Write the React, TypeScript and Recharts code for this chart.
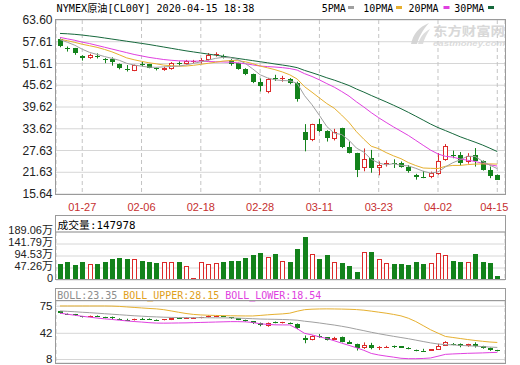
import React from 'react';
import { ComposedChart, Bar, Line, XAxis, YAxis, CartesianGrid } from 'recharts';

// ---------- data ----------
const dates = [
  '01-22','01-23','01-24','01-27','01-28','01-29','01-30','01-31','02-03','02-04',
  '02-05','02-06','02-07','02-10','02-11','02-12','02-13','02-14','02-17','02-18',
  '02-19','02-20','02-21','02-24','02-25','02-26','02-27','02-28','03-02','03-03',
  '03-04','03-05','03-06','03-09','03-10','03-11','03-12','03-13','03-16','03-17',
  '03-18','03-19','03-20','03-23','03-24','03-25','03-26','03-27','03-30','03-31',
  '04-01','04-02','04-03','04-06','04-07','04-08','04-09','04-13','04-14','04-15',
];
const opens = [
  58.3,56.0,55.8,53.7,53.05,53.8,52.9,52.8,51.4,50.05,
  49.65,51.4,51.4,50.25,49.8,50.1,51.8,51.5,52.2,52.2,
  52.6,54.0,53.8,52.5,51.7,50.1,48.7,46.6,43.7,47.6,
  47.5,47.2,46.2,32.7,30.4,34.9,33.0,30.85,33.8,28.7,
  26.9,22.8,25.6,22.8,24.0,24.3,24.3,23.2,20.9,20.3,
  20.3,21.2,25.1,26.3,26.4,24.4,26.4,24.6,22.3,20.75,
];
const highs = [
  58.5,56.3,55.9,53.9,54.3,54.4,53.1,53.3,51.6,51.2,
  51.3,52.1,51.5,50.5,50.7,52.0,52.2,52.6,52.6,53.1,
  54.5,54.7,54.1,52.8,51.8,50.3,48.8,47.5,47.6,48.5,
  48.2,47.6,46.6,34.9,35.0,36.3,33.2,33.6,33.9,30.1,
  27.0,28.2,27.8,24.6,24.9,25.2,24.6,23.6,21.2,22.0,
  21.8,26.9,29.4,27.6,27.2,26.9,28.3,24.9,23.2,21.0,
];
const lows = [
  56.1,54.9,54.0,52.4,52.9,53.0,51.7,51.0,50.0,49.4,
  49.5,50.8,50.3,49.7,49.6,49.9,51.0,51.3,51.7,51.6,
  52.4,53.5,53.0,51.0,49.9,48.4,46.2,43.9,43.4,46.8,
  46.6,45.9,41.1,27.4,30.2,32.7,30.1,30.4,28.3,26.8,
  20.3,21.9,21.5,20.8,23.2,22.8,22.9,21.5,19.6,20.0,
  20.0,20.95,24.8,25.5,23.5,24.0,23.2,22.1,20.0,19.5,
];
const closes = [
  56.3,55.6,54.4,53.0,54.05,53.5,52.7,51.9,50.3,49.9,
  51.1,51.2,50.5,50.1,50.5,51.7,51.6,52.2,52.3,52.5,
  54.05,54.1,53.6,51.6,50.1,48.7,46.6,45.5,47.35,47.4,
  47.7,46.3,41.9,30.4,34.9,33.0,31.0,32.7,28.55,26.9,
  22.3,25.4,22.8,23.6,24.2,24.0,23.2,21.9,20.3,20.2,
  21.4,24.8,28.9,26.0,24.3,26.2,24.6,22.3,20.5,19.6,
];
// volume in 万
const volumes = [
  61.7,69.6,57.8,69.6,61.7,61.7,69.6,81.4,85.3,81.4,
  84.0,73.5,69.6,65.6,69.6,72.2,69.6,56.5,6.6,72.2,
  61.7,65.6,69.6,73.5,73.5,85.3,97.2,105,91.9,101,
  73.5,69.6,120.8,168,101,81.4,97.2,72.2,65.6,53.8,
  30.2,109,109,81.4,65.6,61.7,61.7,57.8,69.6,61.7,
  65.6,105,97.2,73.5,69.6,69.6,101,69.6,65.6,14.8,
];
const ma5 = [
  58.2,57.46,56.64,55.54,54.67,54.11,53.53,53.03,52.49,51.66,
  51.18,50.88,50.6,50.56,50.68,50.8,50.88,51.22,51.66,52.06,
  52.53,53.03,53.31,53.17,52.69,51.62,50.12,48.5,47.65,47.11,
  46.91,46.85,46.13,42.74,40.24,37.3,34.24,32.4,32.03,30.43,
  28.29,27.17,25.19,24.2,23.66,24.0,23.56,23.38,22.72,21.92,
  21.4,21.72,23.12,24.26,25.08,26.04,26.0,24.68,23.58,22.64,
];
const ma10 = [
  58.29,57.89,57.43,56.92,56.5,56.07,55.49,54.83,54.01,53.16,
  52.64,52.2,51.81,51.52,51.17,50.99,50.88,50.91,51.11,51.37,
  51.67,51.96,52.27,52.42,52.38,52.08,51.58,50.91,50.42,49.91,
  49.28,48.5,47.33,45.21,43.69,42.12,40.56,39.28,37.4,35.35,
  32.81,30.72,28.81,28.13,27.06,26.16,25.38,24.3,23.48,22.81,
  22.72,22.66,23.27,23.51,23.52,23.74,23.88,23.92,23.94,23.88,
];
const ma20 = [
  58.8,58.4,58.0,57.5,57.1,56.6,56.1,55.6,55.1,54.6,
  54.1,53.7,53.3,53.0,52.7,52.5,52.35,52.3,52.25,52.27,
  52.16,52.08,52.04,51.97,51.78,51.54,51.23,50.91,50.76,50.64,
  50.47,50.22,49.79,48.81,48.03,47.1,46.07,45.09,43.9,42.62,
  41.04,39.6,38.06,36.66,35.37,34.13,32.96,31.78,30.43,29.07,
  27.75,26.68,26.03,25.81,25.28,24.94,24.62,24.1,23.7,23.33,
];
const ma30 = [
  59.9,59.8,59.65,59.45,59.2,58.95,58.65,58.35,58.05,57.75,
  57.45,57.15,56.85,56.5,56.15,55.8,55.45,55.1,54.8,54.5,
  54.2,53.9,53.6,53.3,53.0,52.7,52.4,52.1,51.8,51.48,
  51.19,50.88,50.47,49.71,49.07,48.39,47.67,47.03,46.3,45.54,
  44.58,43.72,42.79,41.91,41.03,40.11,39.16,38.15,37.09,36.01,
  34.92,33.95,33.12,32.27,31.41,30.66,29.93,29.15,28.26,27.33,
];
const bollUpper = [
  63.6,63.6,63.6,63.6,63.6,63.6,63.6,63.5,63.2,62.7,
  62.2,61.7,61.2,60.8,60.0,58.8,57.5,56.3,55.4,54.9,
  54.6,54.4,54.2,54.1,54.0,53.9,53.9,54.4,55.0,55.5,
  55.9,56.6,58.5,60.0,60.5,60.7,60.8,60.7,60.6,60.4,
  60.1,59.5,58.6,57.6,56.6,55.4,54.0,51.7,48.5,44.5,
  40.5,37.2,34.0,33.0,32.0,31.0,30.1,29.3,28.6,28.15,
];
const bollLower = [
  56.6,55.6,54.6,53.6,52.7,51.9,51.1,50.5,49.8,49.1,
  48.5,48.0,47.4,47.0,46.9,47.0,47.1,47.2,47.4,47.6,
  47.8,48.0,48.2,48.4,48.4,48.2,47.6,46.3,45.7,45.3,
  45.2,45.2,41.5,37.0,35.5,33.6,32.0,29.8,27.5,25.3,
  23.0,20.5,17.5,16.0,14.9,13.9,12.8,12.4,12.4,12.6,
  13.1,14.8,16.6,17.0,17.3,17.6,17.8,18.0,18.3,18.54,
];

const xTickIdx = [3, 11, 19, 27, 35, 43, 51, 59];
const priceTicks = [15.64, 21.63, 27.63, 33.62, 39.62, 45.62, 51.61, 57.61, 63.6];
const volTicks = [0, 47.26, 94.53, 141.79, 189.06];
const volTickLabels = ['0', '47.26万', '94.53万', '141.79万', '189.06万'];
const bollTicks = [11.6, 37.05, 63.4];
const bollTickLabels = ['8', '42', '75'];

const data = dates.map((date, i) => ({
  idx: i,
  date,
  open: opens[i],
  high: highs[i],
  low: lows[i],
  close: closes[i],
  range: [lows[i], highs[i]],
  vol: volumes[i],
  ma5: ma5[i],
  ma10: ma10[i],
  ma20: ma20[i],
  ma30: ma30[i],
  upper: bollUpper[i],
  lower: bollLower[i],
}));

// ---------- styles ----------
const RED = '#dc2a2a';
const GREEN = '#13821b';
const C5 = '#a0a0a0';
const C10 = '#e6b030';
const C20 = '#e040e0';
const C30 = '#16683c';
const FRAME = '#9a9a9a';
const MONO = "'DejaVu Sans Mono', 'Liberation Mono', 'Noto Sans CJK SC', monospace";
const SANS = "'Liberation Sans', Arial, 'Noto Sans CJK SC', sans-serif";
const X_DOMAIN: [number, number] = [-0.54, 60.04];

function monoWidth(s: string) {
  let w = 0;
  for (const ch of s) w += ch.charCodeAt(0) > 255 ? 12 : 6;
  return w;
}

const MonoText = ({ x, y, text, fill = '#000', size = 10.5 }: any) => (
  <text
    x={x}
    y={y}
    fill={fill}
    fontSize={size}
    fontFamily={MONO}
    textLength={monoWidth(text)}
    lengthAdjust="spacingAndGlyphs"
    dominantBaseline="central"
  >
    {text}
  </text>
);

// ---------- shapes ----------
const CandleShape = (props: any) => {
  const { x, y, width, height, payload } = props;
  if (x == null || y == null || !payload) return null;
  const { open, close, high, low } = payload;
  const top = Math.min(y, y + height);
  const bot = Math.max(y, y + height);
  const span = high - low;
  const k = span > 0 ? (bot - top) / span : 0;
  const py = (v: number) => top + (high - v) * k;
  const cx = Math.round(x + width / 2);
  const up = close >= open;
  const color = up ? RED : GREEN;
  const bt = Math.round(py(Math.max(open, close)));
  const bb = Math.max(Math.round(py(Math.min(open, close))), bt + 1);
  const wx = cx + 0.5;
  if (up) {
    const thin = bb - bt <= 2;
    return (
      <g>
        <line x1={wx} x2={wx} y1={top} y2={bt} stroke={color} strokeWidth={1} />
        <line x1={wx} x2={wx} y1={bb} y2={bot} stroke={color} strokeWidth={1} />
        {thin ? (
          <rect x={cx - 2} y={bt} width={5} height={Math.max(bb - bt, 1)} fill={color} />
        ) : (
          <rect x={cx - 1.5} y={bt + 0.5} width={4} height={bb - bt - 1} fill="#fff" stroke={color} strokeWidth={1} />
        )}
      </g>
    );
  }
  return (
    <g>
      <line x1={wx} x2={wx} y1={top} y2={bot} stroke={color} strokeWidth={1} />
      <rect x={cx - 2} y={bt} width={5} height={bb - bt} fill={color} />
    </g>
  );
};

const VolShape = (props: any) => {
  const { x, y, width, height, payload } = props;
  if (x == null || y == null || !payload) return null;
  const cx = Math.round(x + width / 2);
  const top = Math.round(Math.min(y, y + height));
  const bot = Math.round(Math.max(y, y + height));
  if (payload.close >= payload.open) {
    return (
      <rect x={cx - 1.5} y={top + 0.5} width={4} height={Math.max(bot - top - 1, 0)} fill="#fff" stroke={RED} strokeWidth={1} />
    );
  }
  return <rect x={cx - 2} y={top} width={5} height={Math.max(bot - top, 1)} fill={GREEN} />;
};

// ---------- ticks ----------
const PriceTick = (props: any) => {
  const { y, payload } = props;
  return (
    <text x={52.5} y={y} textAnchor="end" dominantBaseline="central" fontSize={12} fontFamily={SANS} fill="#222">
      {Number(payload.value).toFixed(2)}
    </text>
  );
};

const VolTick = (props: any) => {
  const { y, payload } = props;
  const label = volTickLabels[volTicks.indexOf(payload.value)];
  return (
    <text x={53} y={y - 2.5} textAnchor="end" dominantBaseline="central" fontSize={11} fontFamily={SANS} fill="#222">
      {label}
    </text>
  );
};

const BollTick = (props: any) => {
  const { y, payload } = props;
  const label = bollTickLabels[bollTicks.indexOf(payload.value)];
  return (
    <text x={52.5} y={y - 0.5} textAnchor="end" dominantBaseline="central" fontSize={11.5} fontFamily={SANS} fill="#222">
      {label}
    </text>
  );
};

const XTick = (props: any) => {
  const { x, y, payload } = props;
  const i = payload.value;
  const shift = i === dates.length - 1 ? -3 : 0;
  return (
    <text x={x + shift} y={y + 11} textAnchor="middle" dominantBaseline="central" fontSize={11} fontFamily={SANS} fill="#c62f2f">
      {dates[i]}
    </text>
  );
};

const lineProps = { type: 'linear' as const, dot: false, activeDot: false, strokeWidth: 1, isAnimationActive: false };

export default function App() {
  return (
    <div style={{ position: 'absolute', left: 0, top: 0, width: 520, height: 365, background: '#fff', overflow: 'hidden' }}>
      {/* main price panel */}
      <div style={{ position: 'absolute', left: 0, top: 0 }}>
        <ComposedChart width={520} height={215} data={data} margin={{ top: 20, right: 15, bottom: 0, left: 0 }}>
          <CartesianGrid vertical={false} stroke="#d6d6d6" />
          <CartesianGrid horizontal={false} stroke="#c4c4c4" strokeDasharray="4 3" />
          <XAxis
            dataKey="idx"
            type="number"
            domain={X_DOMAIN}
            allowDataOverflow
            ticks={xTickIdx}
            interval={0}
            height={21}
            tickSize={0}
            axisLine={false}
            tickLine={false}
            tick={<XTick />}
          />
          <YAxis
            type="number"
            width={56}
            domain={[15.64, 63.6]}
            allowDataOverflow
            ticks={priceTicks}
            interval={0}
            tickSize={0}
            axisLine={false}
            tickLine={false}
            tick={<PriceTick />}
          />
          <Bar dataKey="range" shape={CandleShape} isAnimationActive={false} />
          <Line dataKey="ma30" stroke={C30} {...lineProps} />
          <Line dataKey="ma20" stroke={C20} {...lineProps} />
          <Line dataKey="ma10" stroke={C10} {...lineProps} />
          <Line dataKey="ma5" stroke={C5} {...lineProps} />
        </ComposedChart>
      </div>

      {/* volume panel */}
      <div style={{ position: 'absolute', left: 0, top: 216 }}>
        <ComposedChart width={520} height={70} data={data} margin={{ top: 16, right: 15, bottom: 6, left: 0 }}>
          <CartesianGrid vertical={false} stroke="#d6d6d6" />
          <CartesianGrid horizontal={false} stroke="#c4c4c4" strokeDasharray="4 3" />
          <XAxis
            dataKey="idx"
            type="number"
            domain={X_DOMAIN}
            allowDataOverflow
            ticks={xTickIdx}
            interval={0}
            height={0}
            tick={false}
            axisLine={false}
            tickLine={false}
          />
          <YAxis
            type="number"
            width={56}
            domain={[0, 189.06]}
            allowDataOverflow
            ticks={volTicks}
            interval={0}
            tickSize={0}
            axisLine={false}
            tickLine={false}
            tick={<VolTick />}
          />
          <Bar dataKey="vol" shape={VolShape} isAnimationActive={false} />
        </ComposedChart>
      </div>

      {/* BOLL panel */}
      <div style={{ position: 'absolute', left: 0, top: 288 }}>
        <ComposedChart width={520} height={77} data={data} margin={{ top: 13, right: 15, bottom: 2, left: 0 }}>
          <CartesianGrid vertical={false} stroke="#d6d6d6" />
          <CartesianGrid horizontal={false} stroke="#c4c4c4" strokeDasharray="4 3" />
          <XAxis
            dataKey="idx"
            type="number"
            domain={X_DOMAIN}
            allowDataOverflow
            ticks={xTickIdx}
            interval={0}
            height={0}
            tick={false}
            axisLine={false}
            tickLine={false}
          />
          <YAxis
            type="number"
            width={56}
            domain={[8.2, 68.44]}
            allowDataOverflow
            ticks={bollTicks}
            interval={0}
            tickSize={0}
            axisLine={false}
            tickLine={false}
            tick={<BollTick />}
          />
          <Line dataKey="upper" stroke={C10} {...lineProps} />
          <Line dataKey="ma20" stroke={C5} {...lineProps} />
          <Line dataKey="lower" stroke={C20} {...lineProps} />
          <Bar dataKey="range" shape={CandleShape} isAnimationActive={false} />
        </ComposedChart>
      </div>

      {/* frames, headers, legend */}
      <svg width={520} height={365} style={{ position: 'absolute', left: 0, top: 0, pointerEvents: 'none' }}>
        <MonoText x={56.5} y={7.5} text="NYMEX原油[CL00Y] 2020-04-15 18:38" />

        <MonoText x={321.7} y={7.5} text="5PMA" />
        <rect x={348} y={6} width={6} height={3} fill={C5} />
        <MonoText x={363.3} y={7.5} text="10PMA" />
        <rect x={396} y={6} width={6} height={3} fill={C10} />
        <MonoText x={408.5} y={7.5} text="20PMA" />
        <rect x={443.5} y={6} width={6} height={3} fill={C20} />
        <MonoText x={454.3} y={7.5} text="30PMA" />
        <rect x={488} y={6} width={6} height={3} fill={C30} />

        {/* watermark */}
        <g opacity={0.9}>
          <path d="M411 44 C413 34 419 27 429 23 C423 30 419 36 417 44 Z" fill="#d2d2d2" />
          <path d="M418 44 C420 37 424 32 430 29 C427 34 424 39 423 44 Z" fill="#dadada" />
          <text x={433} y={30} fontSize={12.5} fontFamily="'Noto Sans CJK SC', sans-serif" fontWeight={700} fill="#d4d4d4" textLength={72} lengthAdjust="spacingAndGlyphs" dominantBaseline="central">
            东方财富网
          </text>
          <text x={433} y={43} fontSize={8} fontFamily={SANS} fontStyle="italic" fontWeight={700} fill="#d8d8d8" textLength={72} lengthAdjust="spacingAndGlyphs" dominantBaseline="central">
            eastmoney.com
          </text>
        </g>

        <rect x={55.5} y={19.5} width={450} height={175} fill="none" stroke={FRAME} />

        <rect x={55.5} y={215.5} width={450} height={64} fill="none" stroke={FRAME} />
        <line x1={55.5} x2={505.5} y1={232} y2={232} stroke={FRAME} />
        <MonoText x={57.5} y={224.5} text="成交量:147978" />

        <rect x={55.5} y={288.5} width={450} height={75} fill="none" stroke={FRAME} />
        <line x1={55.5} x2={505.5} y1={300.5} y2={300.5} stroke={FRAME} />
        <MonoText x={57.3} y={295} text="BOLL:23.35" fill="#8c8c8c" />
        <MonoText x={123.3} y={295} text="BOLL_UPPER:28.15" fill="#e0a020" />
        <MonoText x={225.3} y={295} text="BOLL_LOWER:18.54" fill="#e040e0" />
      </svg>
    </div>
  );
}
